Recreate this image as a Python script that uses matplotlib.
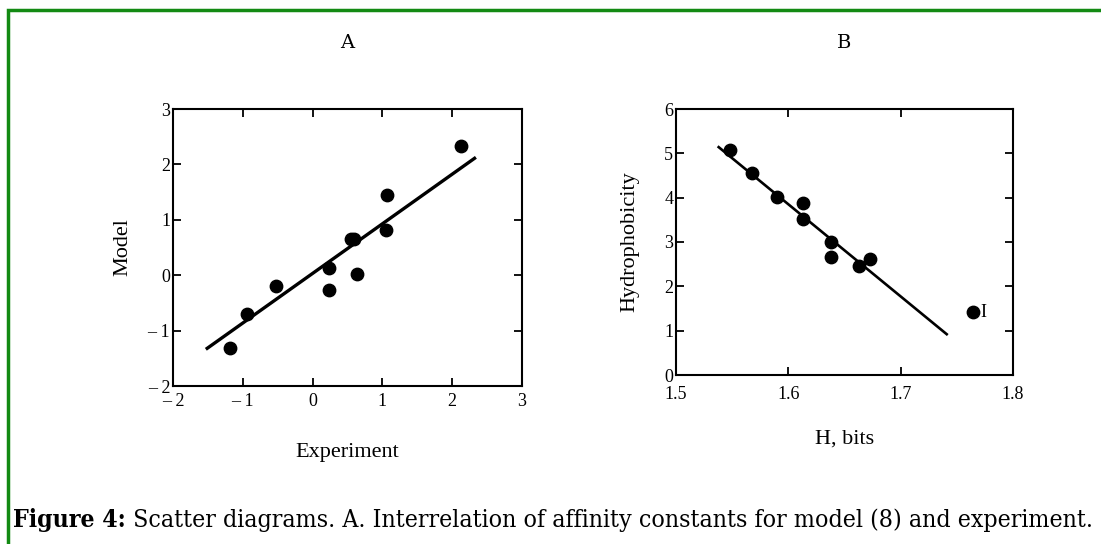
import numpy as np
import matplotlib
matplotlib.use("Agg")
import matplotlib.pyplot as plt
from matplotlib.ticker import FuncFormatter
from matplotlib.patches import Rectangle

plt.rcParams['font.family'] = ['Liberation Serif', 'DejaVu Serif']

# panel A: experiment vs model
exp_x = [-1.19, -0.94, -0.52, 0.24, 0.24, 0.55, 0.60, 0.64, 1.05, 1.07, 2.12]
model_y = [-1.31, -0.70, -0.19, 0.13, -0.27, 0.65, 0.65, 0.03, 0.82, 1.44, 2.33]
fitA_x = [-1.51, 2.32]
fitA_y = [-1.32, 2.11]

# panel B: entropy vs hydrophobicity
h_bits = [1.548, 1.568, 1.590, 1.613, 1.613, 1.638, 1.638, 1.663, 1.673, 1.764]
hydro = [5.08, 4.56, 4.01, 3.88, 3.52, 3.00, 2.66, 2.46, 2.62, 1.41]
fitB_x = [1.538, 1.741]
fitB_y = [5.14, 0.92]

caption_bold = "Figure 4:"
caption_rest = " Scatter diagrams. A. Interrelation of affinity constants for model (8) and experiment."

fig = plt.figure(figsize=(11.01, 5.44), dpi=100)
W, H = 1101, 544


def px_axes(l, t, r, b):
    return fig.add_axes([l / W, 1 - b / H, (r - l) / W, (b - t) / H])


def style(ax, xpad=5):
    for s in ax.spines.values():
        s.set_linewidth(1.5)
    ax.tick_params(direction='in', length=6, width=1.3, top=True, right=True,
                   labelsize=13, pad=2)
    ax.tick_params(axis='x', pad=xpad)


def minus_fmt(v, pos):
    if v < 0:
        return "\u2013 %d" % abs(v)
    return "%d" % v


# green frame
fig.patches.append(Rectangle((8 / W, -0.1), 1.2, 1 - 10 / H + 0.1, transform=fig.transFigure,
                             fill=False, edgecolor='#138a13', linewidth=2.5))

title_font = ['DejaVu Serif']

axA = px_axes(173, 109, 522, 386)
axA.scatter(exp_x, model_y, s=80, color='black', zorder=3)
axA.plot(fitA_x, fitA_y, color='black', linewidth=2.4)
axA.set_xlim(-2, 3)
axA.set_ylim(-2, 3)
axA.set_xticks(range(-2, 4))
axA.set_yticks(range(-2, 4))
axA.xaxis.set_major_formatter(FuncFormatter(minus_fmt))
axA.yaxis.set_major_formatter(FuncFormatter(minus_fmt))
style(axA)
axA.set_xlabel("Experiment", fontsize=16, labelpad=24)
axA.set_ylabel("Model", fontsize=16, labelpad=11)
axA.set_title("A", fontsize=14, pad=44, family=title_font)

axB = px_axes(676, 109, 1013, 375)
axB.scatter(h_bits, hydro, s=80, color='black', zorder=3)
axB.plot(fitB_x, fitB_y, color='black', linewidth=1.9)
axB.text(h_bits[-1] + 0.007, hydro[-1], "I", fontsize=13, va='center', ha='left')
axB.set_xlim(1.5, 1.8)
axB.set_ylim(0, 6)
axB.set_xticks([1.5, 1.6, 1.7, 1.8])
axB.set_yticks(range(0, 7))
style(axB, xpad=8)
axB.set_xlabel("H, bits", fontsize=16, labelpad=19)
axB.set_ylabel("Hydrophobicity", fontsize=16, labelpad=18)
axB.set_title("B", fontsize=14, pad=44, family=title_font)

# caption: fit the line between the frame and the right edge
cap_font = ['DejaVu Serif']
y_base = 1 - 527 / H
t1 = fig.text(13 / W, y_base, caption_bold, fontsize=14, fontweight='bold',
              family=cap_font, stretch='condensed', va='baseline')
fig.canvas.draw()
bb = t1.get_window_extent()
t2 = fig.text(bb.x1 / W, y_base, caption_rest, fontsize=14, family=cap_font,
              stretch='condensed', va='baseline')
fig.canvas.draw()
scale = (1096 - 13) / (t2.get_window_extent().x1 - 13)
t1.set_fontsize(14 * scale)
fig.canvas.draw()
t2.set_x(t1.get_window_extent().x1 / W)
t2.set_fontsize(14 * scale)

fig.savefig("out.png", dpi=100)
